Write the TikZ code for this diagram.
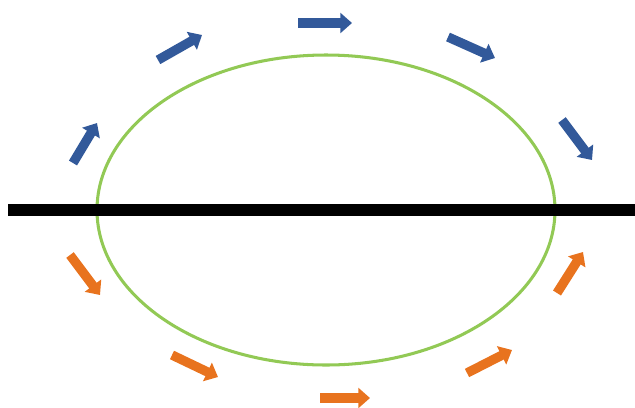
\documentclass[tikz,border=0pt]{standalone}
\usepackage{xcolor}
\usepackage{tikz}
\usetikzlibrary{arrows.meta}
\definecolor{Ink}{HTML}{000000}
\definecolor{Leaf}{HTML}{92C955}
\definecolor{Blue}{HTML}{32599A}
\definecolor{Orange}{HTML}{E8731E}

\begin{document}
\begin{tikzpicture}[
  x=0.03cm, y=-0.03cm,
  horizon/.style={draw=Ink, line width=11pt},
  orbit/.style={draw=Leaf, line width=2.6pt},
  flow/.style={line width=8pt, -{Triangle[length=10pt, width=17pt]}},
  upper/.style={flow, draw=Blue},
  lower/.style={flow, draw=Orange}
]
\useasboundingbox (0,0) rectangle (635,407);

\draw[orbit] (326,210) ellipse [x radius=229, y radius=155];
\draw[horizon] (8,210) -- (635,210);

% arrows above the line
\foreach \xa/\ya/\xb/\yb in {73/163/97/123, 158/60/202/35, 298/23/352/23, 448/37/495/58, 562/120/592/160}
  \draw[upper] (\xa,\ya) -- (\xb,\yb);

% arrows below the line
\foreach \xa/\ya/\xb/\yb in {70/255/100/295, 172/355/218/377, 320/398/370/398, 467/373/512/350, 557/293/583/252}
  \draw[lower] (\xa,\ya) -- (\xb,\yb);
\end{tikzpicture}
\end{document}
